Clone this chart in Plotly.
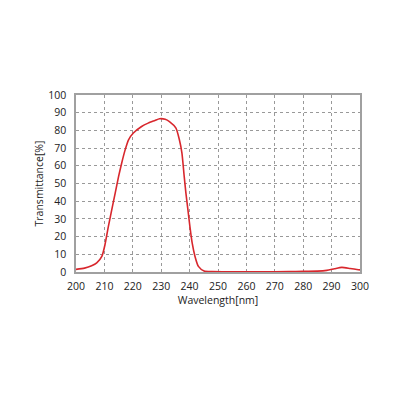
import plotly.graph_objects as go

# values
wavelength = [200, 203, 205.5, 207.3, 209.1, 210.2, 211.4, 212.6, 213.8, 215, 216.1,
              217.3, 218.5, 220.2, 223.1, 225.4, 227.8, 229.4, 231.4, 232.9, 235.2,
              236.4, 237.3, 238.1, 238.7, 239.4, 240.1, 240.9, 241.9, 243.1, 245.1,
              247.9, 255, 265, 275, 280, 285, 288.3, 291, 293.6, 296.5, 299.4, 300]
transmittance = [1.5, 2.2, 3.5, 5.1, 8.8, 15.4, 25.8, 35.2, 44.6, 54, 61.6,
                 69, 74.7, 78.5, 82.2, 84.1, 85.6, 86.6, 86.3, 85, 81.3,
                 74.7, 67.2, 54, 44.6, 35.2, 25.8, 16.4, 8.8, 3.2, 0.6,
                 0.2, 0.1, 0.1, 0.2, 0.4, 0.5, 0.9, 1.8, 2.6, 2.0, 1.3, 1.2]

x_ticks = list(range(200, 301, 10))
y_ticks = list(range(0, 101, 10))

fig = go.Figure()
fig.add_trace(go.Scatter(x=wavelength, y=transmittance, mode="lines",
                         line=dict(color="#d8272d", width=1.6, shape="spline", smoothing=0.6),
                         hoverinfo="skip"))

axis_style = dict(showline=True, linecolor="#a0a0a0", linewidth=1.5, mirror=True,
                  showgrid=True, gridcolor="#999999", griddash="dot", gridwidth=1,
                  zeroline=False, ticks="", tickfont=dict(size=10.5, color="#222"),
                  title_font=dict(size=10.5, color="#222"))

fig.update_xaxes(range=[200, 300], tickvals=x_ticks, title_text="Wavelength[nm]",
                 ticklabelstandoff=4, title_standoff=4, **axis_style)
fig.update_yaxes(range=[0, 100], tickvals=y_ticks, title_text="Transmittance[%]",
                 ticklabelstandoff=6, title_standoff=2, **axis_style)

fig.update_layout(width=400, height=400, showlegend=False,
                  margin=dict(l=68, r=48, t=87, b=136),
                  paper_bgcolor="white", plot_bgcolor="white",
                  font=dict(family="Open Sans", size=10.5, color="#222"))

fig.write_html("out.html")
